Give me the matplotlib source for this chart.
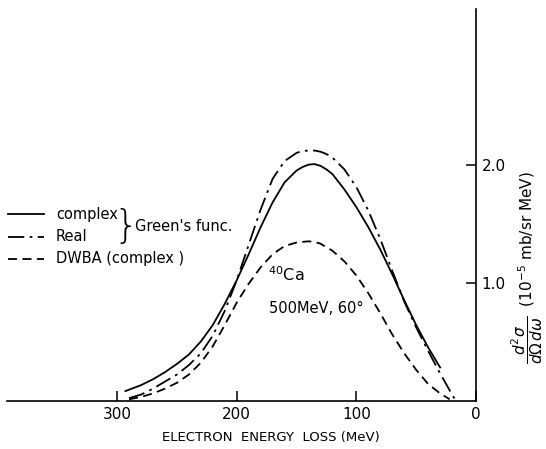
import matplotlib
matplotlib.use("Agg")
import matplotlib.pyplot as plt
from matplotlib.lines import Line2D

# Data (MeV, 10^-5 mb/sr MeV)
solid_x = [293, 280, 270, 260, 250, 240, 230, 220, 210, 200, 190, 180, 170, 160, 150, 145, 140, 135, 130, 125, 120, 110, 100, 90, 80, 70, 60, 50, 40, 30]
solid_y = [0.08, 0.13, 0.18, 0.24, 0.31, 0.39, 0.50, 0.64, 0.82, 1.02, 1.24, 1.47, 1.68, 1.85, 1.95, 1.98, 2.00, 2.005, 1.99, 1.96, 1.92, 1.79, 1.64, 1.47, 1.28, 1.07, 0.85, 0.64, 0.45, 0.28]

dd_x = [290, 280, 270, 260, 250, 240, 230, 220, 210, 200, 190, 180, 170, 160, 150, 145, 140, 135, 130, 125, 120, 110, 100, 90, 80, 70, 60, 50, 40, 30, 20, 17]
dd_y = [0.02, 0.05, 0.10, 0.16, 0.22, 0.30, 0.40, 0.55, 0.76, 1.02, 1.32, 1.62, 1.88, 2.03, 2.10, 2.115, 2.12, 2.12, 2.11, 2.09, 2.06, 1.96, 1.81, 1.61, 1.37, 1.10, 0.84, 0.62, 0.42, 0.23, 0.05, 0.0]

da_x = [290, 280, 270, 260, 250, 240, 230, 220, 210, 200, 190, 180, 170, 160, 150, 145, 140, 135, 130, 120, 110, 100, 90, 80, 70, 60, 50, 40, 30, 22]
da_y = [0.01, 0.03, 0.06, 0.10, 0.15, 0.22, 0.32, 0.46, 0.64, 0.83, 0.99, 1.13, 1.24, 1.31, 1.34, 1.345, 1.35, 1.345, 1.33, 1.27, 1.18, 1.06, 0.91, 0.74, 0.56, 0.40, 0.26, 0.14, 0.06, 0.01]

x_ticks = [300, 200, 100, 0]
y_ticks = [1.0, 2.0]

W, H = 546, 449
fig = plt.figure(figsize=(W / 100, H / 100), dpi=100)
ax = fig.add_axes([7 / W, 1 - 400.5 / H, (476 - 7) / W, (400.5 - 9) / H])

lw = 1.3
ls_dd = (0, (9, 3, 1.5, 3))
ls_da = (0, (5, 3))
ax.plot(solid_x, solid_y, color="black", lw=lw, ls="-", solid_joinstyle="round")
ax.plot(dd_x, dd_y, color="black", lw=lw, ls=ls_dd)
ax.plot(da_x, da_y, color="black", lw=lw, ls=ls_da)

ax.set_xlim(392, 0)
ax.set_ylim(0, 3.32)
for s in ["top", "left"]:
    ax.spines[s].set_visible(False)
ax.spines["bottom"].set_linewidth(1.2)
ax.spines["right"].set_linewidth(1.2)

ax.set_xticks(x_ticks)
ax.set_xticklabels([str(v) for v in x_ticks])
ax.tick_params(axis="x", direction="in", length=7, width=1.1, pad=5, labelsize=11)
ax.yaxis.tick_right()
ax.set_yticks(y_ticks)
ax.set_yticklabels(["1.0", "2.0"])
ax.tick_params(axis="y", direction="in", length=7, width=1.1, pad=4, labelsize=11,
               right=True, left=False, labelright=True, labelleft=False)

def fx(px):
    return px / W

def fy(py):
    return 1 - py / H

# Axis labels
fig.text(fx(271), fy(438), "ELECTRON  ENERGY  LOSS (MeV)", ha="center", va="center", fontsize=9.5)
fig.text(fx(527), fy(268), r"$\dfrac{d^2\sigma}{d\Omega\,d\omega}$  (10$^{-5}$ mb/sr MeV)",
         rotation=90, ha="center", va="center", fontsize=11)

# Legend
legend_items = [("-", "complex", 214), (ls_dd, "Real", 237), (ls_da, "DWBA (complex )", 259)]
for ls, lab, py in legend_items:
    fig.add_artist(Line2D([fx(8), fx(44)], [fy(py), fy(py)], color="black", lw=lw, ls=ls,
                          transform=fig.transFigure))
    fig.text(fx(56), fy(py), lab, ha="left", va="center", fontsize=10.5)
fig.text(fx(126), fy(227), "}", ha="center", va="center", fontsize=28, fontweight="light")
fig.text(fx(135), fy(226), "Green's func.", ha="left", va="center", fontsize=10.5)

# Annotation
ax.text(174, 1.07, r"$^{40}$Ca", ha="left", va="center", fontsize=11.5)
ax.text(173, 0.78, "500MeV, 60°", ha="left", va="center", fontsize=10.5)

fig.savefig("out.png", dpi=100)
